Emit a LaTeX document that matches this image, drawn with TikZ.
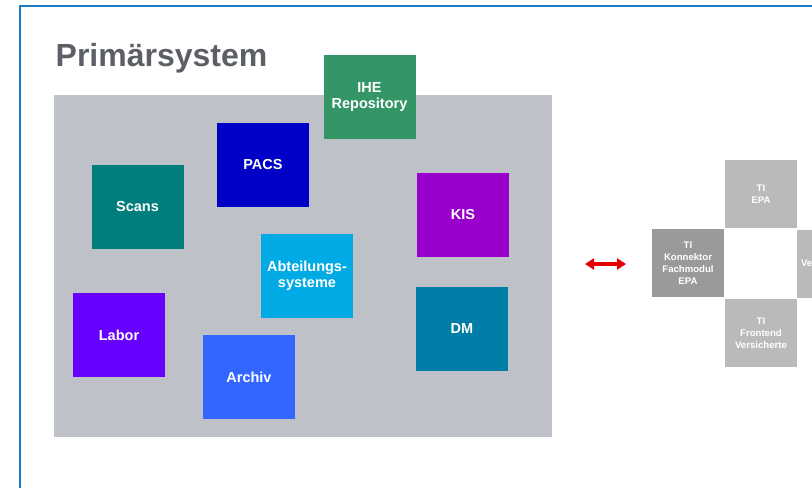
\documentclass[tikz,border=0pt]{standalone}
\usepackage{fontspec}
\setmainfont{Liberation Sans}
\usepackage{xcolor}
\definecolor{FrameBlue}{RGB}{28,124,194}
\definecolor{TitleGray}{RGB}{92,96,102}
\definecolor{PanelGray}{RGB}{190,194,200}
\definecolor{ScansTeal}{RGB}{0,125,125}
\definecolor{PacsBlue}{RGB}{0,0,198}
\definecolor{IheGreen}{RGB}{52,150,102}
\definecolor{KisPurple}{RGB}{153,0,204}
\definecolor{DmBlue}{RGB}{0,126,168}
\definecolor{AbtBlue}{RGB}{0,170,228}
\definecolor{LaborViolet}{RGB}{102,0,255}
\definecolor{ArchivBlue}{RGB}{51,102,255}
\definecolor{TiLight}{RGB}{186,186,186}
\definecolor{TiDark}{RGB}{154,154,154}
\definecolor{ArrowRed}{RGB}{228,0,0}
\usetikzlibrary{calc}
\usetikzlibrary{arrows.meta}

\begin{document}
\begin{tikzpicture}[x=1pt, y=-1pt,
  sysbox/.style={fill=#1, minimum width=92pt, minimum height=84pt, inner sep=0pt,
    text=white, align=center, font=\bfseries\fontsize{14.5}{15.5}\selectfont},
  tibox/.style={fill=#1, minimum width=72pt, minimum height=68pt, inner sep=0pt,
    text=white, align=center, font=\bfseries\fontsize{9.6}{12.2}\selectfont}]
\useasboundingbox (0, 0) rectangle (812, 488);
\clip (0, 0) rectangle (812, 488);

% slide frame
\coordinate (F1) at (20, 488);
\coordinate (F2) at (20, 5.5);
\coordinate (F3) at (812, 5.5);
\draw[FrameBlue, line width=2pt] (F1) -- (F2) -- (F3);

% title
\node[TitleGray, anchor=base west, inner sep=0pt, font=\bfseries\fontsize{32}{35}\selectfont] (title) at (55.5, 66.5) {Primärsystem};

% primary system panel
\fill[PanelGray] (54, 95) coordinate (P1) rectangle (552, 437) coordinate (P2);

% subsystems
\node[sysbox=IheGreen] (ihe) at (369.5, 97) {IHE\\Repository};
\node[sysbox=PacsBlue] (pacs) at (263, 164.5) {PACS};
\node[sysbox=ScansTeal] (scans) at (137.5, 206.5) {Scans};
\node[sysbox=KisPurple] (kis) at (463, 215) {KIS};
\node[sysbox=AbtBlue] (abt) at (307, 275.5) {Abteilungs-\\systeme};
\node[sysbox=DmBlue] (dm) at (462, 329) {DM};
\node[sysbox=LaborViolet] (labor) at (119, 335) {Labor};
\node[sysbox=ArchivBlue] (archiv) at (249, 377) {Archiv};

% TI components
\node[tibox=TiLight] (tiepa) at (761, 194) {TI\\EPA};
\node[tibox=TiDark] (tikon) at (688, 263) {TI\\Konnektor\\Fachmodul\\EPA};
\node[tibox=TiLight] (tifront) at (761, 333) {TI\\Frontend\\Versicherte};
\node[tibox=TiLight, text width=64pt, align=left] (tivers) at (833, 263.5) {Versicherte};

% exchange arrow
\coordinate (AL) at (585, 264);
\coordinate (AR) at (626, 264);
\draw[ArrowRed, line width=3.5pt, {Triangle[length=9pt, width=11pt]}-{Triangle[length=9pt, width=11pt]}] (AL) -- (AR);
\end{tikzpicture}
\end{document}
